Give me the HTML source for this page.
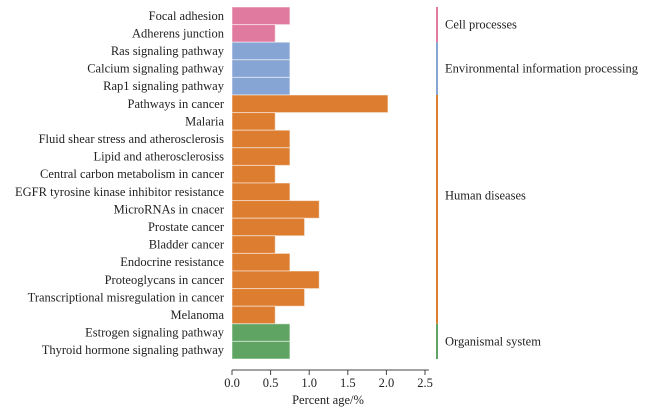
<!DOCTYPE html>
<html><head><meta charset="utf-8"><style>
body{margin:0;background:#fff;}
svg text{font-family:"Liberation Serif",serif;font-size:12.5px;fill:#222;}
</style></head><body>
<svg id="chart" width="647" height="412"></svg>
<script>
const categories=["Focal adhesion","Adherens junction","Ras signaling pathway","Calcium signaling pathway","Rap1 signaling pathway","Pathways in cancer","Malaria","Fluid shear stress and atherosclerosis","Lipid and atherosclerosiss","Central carbon metabolism in cancer","EGFR tyrosine kinase inhibitor resistance","MicroRNAs in cnacer","Prostate cancer","Bladder cancer","Endocrine resistance","Proteoglycans in cancer","Transcriptional misregulation in cancer","Melanoma","Estrogen signaling pathway","Thyroid hormone signaling pathway"];
const values=[0.75,0.56,0.75,0.75,0.75,2.02,0.56,0.75,0.75,0.56,0.75,1.13,0.94,0.56,0.75,1.13,0.94,0.56,0.75,0.75];
const groupOf=[0,0,1,1,1,2,2,2,2,2,2,2,2,2,2,2,2,2,3,3];
const groupNames=["Cell processes","Environmental information processing","Human diseases","Organismal system"];
const groupColors=["#e07a9e","#87a5d4","#dc7d30","#5fa463"];
const ticks=[0,0.5,1.0,1.5,2.0,2.5];
const NS="http://www.w3.org/2000/svg";
const svg=document.getElementById('chart');
const x0=232,pxPer=77.2,topY=7,rowH=17.6;
const labelShift=[0,0,-14,0];
const xs=v=>x0+v*pxPer;
const ys=i=>topY+i*rowH;
function mk(t,a,txt){const e=document.createElementNS(NS,t);for(const k in a)e.setAttribute(k,a[k]);if(txt!=null)e.textContent=txt;svg.appendChild(e);return e;}
categories.forEach((c,i)=>{
  const r=mk('rect',{x:x0,y:ys(i),width:xs(values[i])-x0,height:rowH,fill:groupColors[groupOf[i]],stroke:'#fff','stroke-opacity':0.5,'stroke-width':1});
  
  
  const t=mk('text',{x:224,y:ys(i)+rowH/2+4,'text-anchor':'end'},c);
  
  
});
groupNames.forEach((g,gi)=>{
  const idx=groupOf.map((v,i)=>v===gi?i:-1).filter(i=>i>=0);
  const y1=ys(idx[0]),y2=ys(idx[idx.length-1])+rowH;
  const l=mk('line',{x1:437,x2:437,y1:y1,y2:y2,stroke:groupColors[gi],'stroke-width':2});
  
  
  const t=mk('text',{x:445,y:(y1+y2)/2+4+labelShift[gi]},g);
  
  
});
const ax=mk('line',{x1:x0,x2:xs(2.55),y1:370,y2:370,stroke:'#444','stroke-width':1});


ticks.forEach(v=>{
  const tl=mk('line',{x1:xs(v),x2:xs(v),y1:370,y2:375,stroke:'#444'});
  
  
  const t=mk('text',{x:xs(v),y:387,'text-anchor':'middle'},v.toFixed(1));
  
  
});
const xt=mk('text',{x:328,y:404,'text-anchor':'middle'},'Percent age/%');


</script>
</body></html>
